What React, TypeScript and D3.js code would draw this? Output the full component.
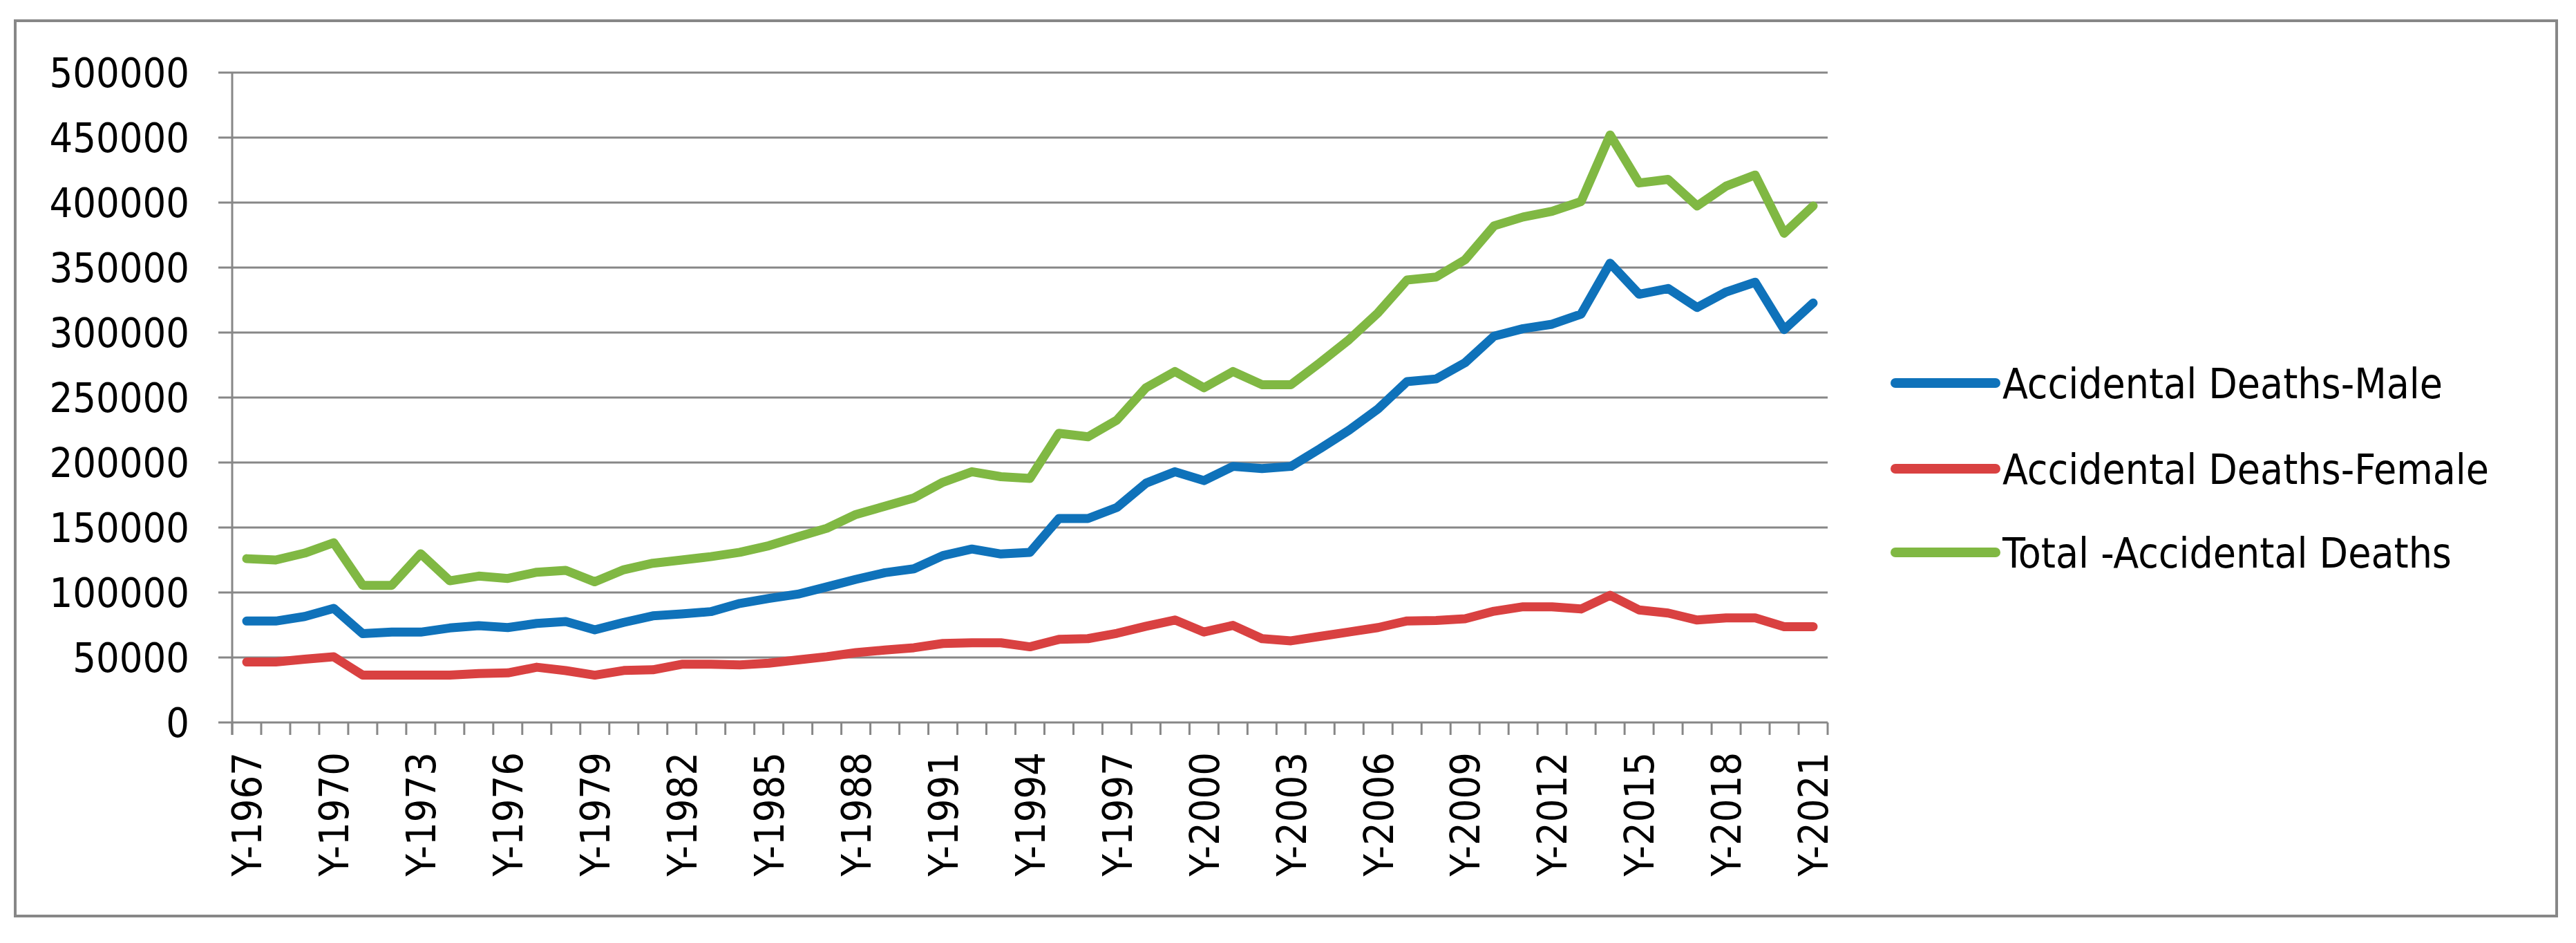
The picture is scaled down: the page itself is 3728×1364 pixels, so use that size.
import { useEffect, useRef } from 'react';
import * as d3 from 'd3';

// categories
const years = [
  '1967', '1968', '1969', '1970', '1971', '1972', '1973', '1974', '1975', '1976', '1977',
  '1978', '1979', '1980', '1981', '1982', '1983', '1984', '1985', '1986', '1987', '1988',
  '1989', '1990', '1991', '1992', '1993', '1994', '1995', '1996', '1997', '1998', '1999',
  '2000', '2001', '2002', '2003', '2004', '2005', '2006', '2007', '2008', '2009', '2010',
  '2011', '2012', '2013', '2014', '2015', '2016', '2017', '2018', '2019', '2020', '2021',
];

// series values
const male = [
  78000, 78000, 81500, 87800, 68300, 69500, 69500, 72700, 74500, 73000, 76200, 77700, 71300, 77000,
  82000, 83500, 85300, 91600, 95400, 98700, 104300, 110100, 115200, 118200, 128400, 133400, 129600, 130900,
  156900, 156900, 165400, 184100, 192900, 186100, 197000, 195300, 197000, 210600, 224900, 241200, 262200, 264300,
  276800, 297200, 303000, 306400, 314200, 353300, 329500, 333900, 319300, 331200, 338700, 302300, 322700,
];

const female = [
  46500, 46500, 48700, 50500, 36400, 36400, 36400, 36400, 37600, 38100, 42500, 39900, 36400, 40000,
  40500, 44800, 44800, 44300, 45600, 48100, 50600, 53700, 55700, 57500, 60800, 61300, 61300, 58200,
  63900, 64500, 68600, 74000, 78800, 69600, 74700, 64500, 62800, 66200, 69600, 73000, 78100, 78500,
  79800, 85600, 89000, 89000, 87300, 97800, 86600, 84200, 78800, 80500, 80500, 73700, 73700,
];

const total = [
  126000, 125000, 130300, 138300, 105500, 105500, 129800, 109000, 112600, 110800, 115600, 117000, 108200, 117500,
  122500, 125000, 127600, 130900, 136000, 142800, 149400, 160000, 166300, 172700, 184800, 192900, 189100, 187800,
  222500, 219800, 232700, 257500, 270000, 257500, 270000, 259900, 259900, 276800, 294500, 315200, 340400, 342700,
  356000, 382100, 388900, 393300, 400800, 452000, 415100, 417800, 397400, 412700, 421200, 376400, 397400,
];

const yTicks = [0, 50000, 100000, 150000, 200000, 250000, 300000, 350000, 400000, 450000, 500000];

const seriesNames = ['Accidental Deaths-Male', 'Accidental Deaths-Female', 'Total -Accidental Deaths'];
const seriesColors = ['#0f72ba', '#d94141', '#80b843'];

const W = 3728;
const H = 1364;
const FONT = '"DejaVu Sans Condensed", "DejaVu Sans", Verdana, sans-serif';
const GRID = '#878787';

const App = () => {
  const svgRef = useRef();

  useEffect(() => {
    const svg = d3.select(svgRef.current);
    svg.selectAll('*').remove();

    // outer chart frame
    svg.append('rect')
      .attr('x', 22).attr('y', 30)
      .attr('width', 3678).attr('height', 1295)
      .attr('fill', '#fff')
      .attr('stroke', GRID)
      .attr('stroke-width', 4);

    const left = 336, right = 2645, top = 105, bottom = 1045;

    const x = d3.scaleBand().domain(years).range([left, right]).padding(0);
    const y = d3.scaleLinear().domain([0, 500000]).range([bottom, top]);

    // gridlines + y labels
    const yAxis = svg.append('g');
    yTicks.forEach(t => {
      yAxis.append('line')
        .attr('x1', left - 20).attr('x2', right)
        .attr('y1', y(t)).attr('y2', y(t))
        .attr('stroke', GRID).attr('stroke-width', 3);
      yAxis.append('text')
        .attr('x', 274).attr('y', y(t))
        .attr('dy', '0.36em')
        .attr('text-anchor', 'end')
        .attr('font-family', FONT)
        .attr('font-size', 59)
        .attr('fill', '#000')
        .text(t);
    });

    // y axis line
    svg.append('line')
      .attr('x1', left).attr('x2', left)
      .attr('y1', top).attr('y2', bottom + 18)
      .attr('stroke', GRID).attr('stroke-width', 3);

    // x ticks at band edges
    const step = x.step();
    const xAxis = svg.append('g');
    d3.range(years.length + 1).forEach(k => {
      const px = left + k * step;
      xAxis.append('line')
        .attr('x1', px).attr('x2', px)
        .attr('y1', bottom).attr('y2', bottom + 18)
        .attr('stroke', GRID).attr('stroke-width', 3);
    });

    // x labels, every third year
    years.forEach((yr, i) => {
      if (i % 3 !== 0) return;
      const cx = x(yr) + x.bandwidth() / 2;
      xAxis.append('text')
        .attr('transform', `translate(${cx},1088) rotate(-90)`)
        .attr('dy', '0.36em')
        .attr('text-anchor', 'end')
        .attr('font-family', FONT)
        .attr('font-size', 59)
        .attr('fill', '#000')
        .text(`Y-${yr}`);
    });

    // lines
    const line = d3.line()
      .x((d, i) => x(years[i]) + x.bandwidth() / 2)
      .y(d => y(d));

    [male, female, total].forEach((vals, s) => {
      svg.append('path')
        .datum(vals)
        .attr('fill', 'none')
        .attr('stroke', seriesColors[s])
        .attr('stroke-width', 13)
        .attr('stroke-linejoin', 'round')
        .attr('stroke-linecap', 'round')
        .attr('d', line);
    });

    // legend
    const legendY = [554, 678, 799];
    const legend = svg.append('g');
    seriesNames.forEach((name, s) => {
      legend.append('line')
        .attr('x1', 2743).attr('x2', 2888)
        .attr('y1', legendY[s]).attr('y2', legendY[s])
        .attr('stroke', seriesColors[s])
        .attr('stroke-width', 14)
        .attr('stroke-linecap', 'round');
      legend.append('text')
        .attr('x', 2898).attr('y', legendY[s])
        .attr('dy', '0.36em')
        .attr('font-family', FONT)
        .attr('font-size', 60)
        .attr('fill', '#000')
        .text(name);
    });

    return () => {
      d3.select(svgRef.current).selectAll('*').remove();
    };
  }, []);

  return (
    <div style={{ position: 'absolute', left: 0, top: 0, background: '#fff' }}>
      <svg ref={svgRef} width={W} height={H} style={{ display: 'block' }}></svg>
    </div>
  );
};

export default App;
